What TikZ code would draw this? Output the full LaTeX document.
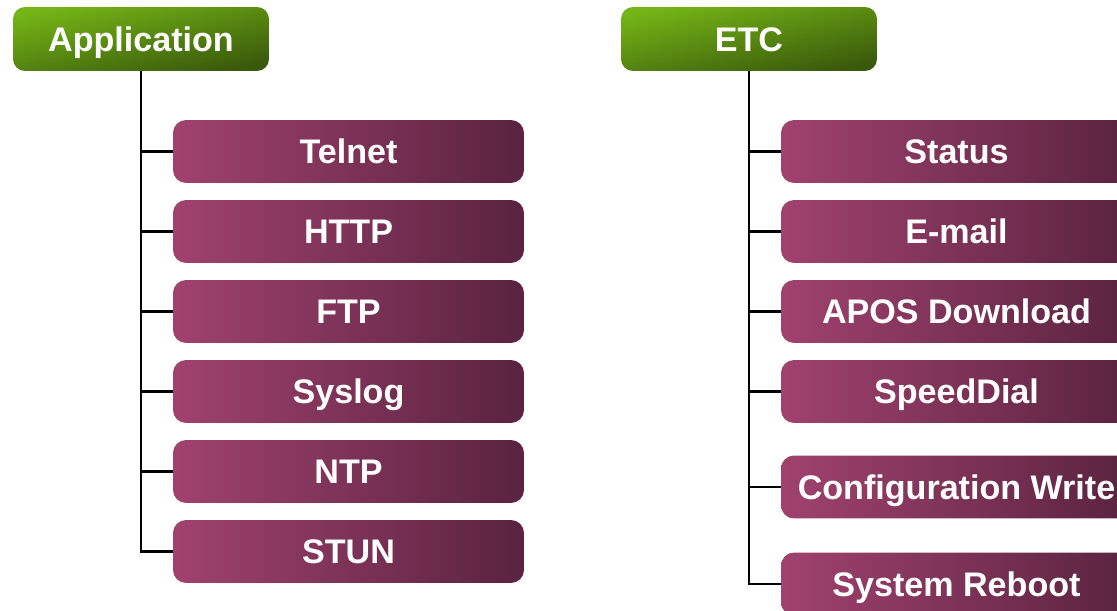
\documentclass[tikz,border=0pt]{standalone}
\usepackage{fontspec}
\setmainfont{Liberation Sans}
\usetikzlibrary{calc}

\definecolor{grnlight}{HTML}{74B416}
\definecolor{grndark}{HTML}{3A5A0B}
\definecolor{purlight}{HTML}{A0426E}
\definecolor{purmid}{HTML}{8C3A62}
\definecolor{purdark}{HTML}{5A2340}

\tikzset{
	headbox/.style={rounded corners=0.24cm, minimum width=5.12cm, minimum height=1.28cm,
		top color=grnlight, bottom color=grndark, shading angle=12,
		text=white, font=\bfseries\fontsize{19.4}{22}\selectfont, inner sep=0pt,
		text height=13.9pt, text depth=0pt},
	itembox/.style={rounded corners=0.26cm, minimum width=7.02cm, minimum height=1.26cm,
		left color=purlight, middle color=purmid, right color=purdark,
		text=white, font=\bfseries\fontsize{19.4}{22}\selectfont, inner sep=0pt,
		text height=13.9pt, text depth=0pt},
	branch/.style={draw=black, line width=1.2pt},
}

\begin{document}
\begin{tikzpicture}[x=0.02cm, y=-0.02cm]

% parameters %{{{1

	\def\lx{348.5}
	\def\rx{956.5}

% frame %{{{1

	\useasboundingbox (0,0) rectangle (1117,611);
	\clip (0,0) rectangle (1117,611);

% headers %{{{1

	\node[headbox] (app) at (141,39) {Application};
	\node[headbox] (etc) at (749,39) {ETC};

% application items %{{{1

	\node[itembox] (telnet) at (\lx,151.5) {Telnet};
	\node[itembox] (http)   at (\lx,231.5) {HTTP};
	\node[itembox] (ftp)    at (\lx,311.5) {FTP};
	\node[itembox] (syslog) at (\lx,391.5) {Syslog};
	\node[itembox] (ntp)    at (\lx,471.5) {NTP};
	\node[itembox] (stun)   at (\lx,551.5) {STUN};

% etc items %{{{1

	\node[itembox] (status) at (\rx,151.5) {Status};
	\node[itembox] (email)  at (\rx,231.5) {E-mail};
	\node[itembox] (apos)   at (\rx,311.5) {APOS Download};
	\node[itembox] (speed)  at (\rx,391.5) {SpeedDial};
	\node[itembox] (config) at (\rx,487) {Configuration Write};
	\node[itembox] (reboot) at (\rx,584) {System Reboot};

% branches %{{{1

	\foreach \n in {telnet,http,ftp,syslog,ntp,stun}
		\draw[branch] (app.south) |- (\n.west);

	\foreach \n in {status,email,apos,speed,config,reboot}
		\draw[branch] (etc.south) |- (\n.west);

% closing %{{{1

\end{tikzpicture}
\end{document}
